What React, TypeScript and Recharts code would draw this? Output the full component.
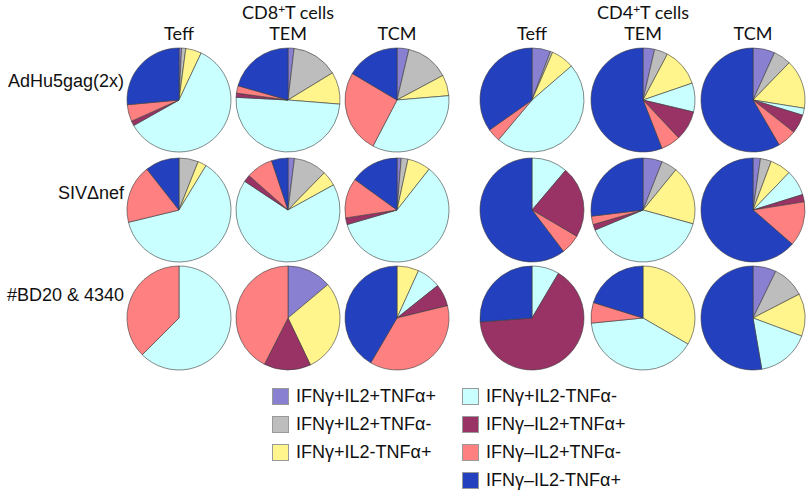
import React from 'react';
import { PieChart, Pie, Cell } from 'recharts';

const categories = [
  'IFNγ+IL2+TNFα+',
  'IFNγ+IL2+TNFα-',
  'IFNγ+IL2-TNFα+',
  'IFNγ+IL2-TNFα-',
  'IFNγ–IL2+TNFα+',
  'IFNγ–IL2+TNFα-',
  'IFNγ–IL2-TNFα+',
];
const colors = ['#8a80d2', '#bdbdbd', '#fff58c', '#c9ffff', '#993366', '#ff8080', '#2340bf'];

const rowLabels = ['AdHu5gag(2x)', 'SIVΔnef', '#BD20 & 4340'];
const subsets = ['Teff', 'TEM', 'TCM'];

// percent of responding cells, one row per vaccine group, order as categories
const cd8Teff = [
  [0.8, 1.3, 4.9, 59.7, 1.5, 5.2, 26.4],
  [0, 6.0, 2.7, 62.5, 0, 18.2, 10.6],
  [0, 0, 0, 62.5, 0, 37.5, 0],
];
const cd8Tem = [
  [1.9, 14.4, 10.0, 49.6, 1.3, 2.3, 20.6],
  [2.0, 10.3, 4.7, 67.4, 2.2, 8.4, 5.1],
  [13.9, 0, 29.0, 0, 14.6, 42.5, 0],
];
const cd8Tcm = [
  [3.7, 13.5, 6.5, 34.0, 0, 25.9, 16.5],
  [1.3, 2.1, 7.2, 59.8, 2.1, 12.4, 15.0],
  [0, 0, 6.8, 7.5, 6.9, 37.3, 41.6],
];
const cd4Teff = [
  [5.8, 0.7, 7.2, 47.5, 0, 4.1, 34.8],
  [0, 0, 0, 11.2, 22.3, 6.2, 60.4],
  [0, 0, 0, 8.5, 65.3, 0, 26.2],
];
const cd4Tem = [
  [3.6, 4.2, 12.0, 9.0, 9.3, 6.1, 56.1],
  [6.0, 4.9, 18.4, 39.4, 1.8, 2.6, 26.9],
  [0, 0, 33.4, 40.1, 0, 6.4, 20.2],
];
const cd4Tcm = [
  [6.8, 5.5, 15.3, 2.2, 5.9, 6.0, 58.5],
  [2.3, 3.4, 6.5, 8.0, 2.3, 13.9, 63.6],
  [7.2, 10.2, 13.2, 16.6, 0, 0, 52.6],
];

const columns = [cd8Teff, cd8Tem, cd8Tcm, cd4Teff, cd4Tem, cd4Tcm];
const colX = [179, 288, 397, 532, 643, 753];
const rowY = [100, 210, 318];

const headerFont = 'Lato, "Open Sans", sans-serif';

const Centered: React.FC<{ x: number; y: number; children: React.ReactNode }> = ({ x, y, children }) => (
  <div
    style={{
      position: 'absolute',
      left: x - 70,
      width: 140,
      top: y - 11,
      lineHeight: '22px',
      textAlign: 'center',
      fontFamily: headerFont,
      fontSize: 18,
      whiteSpace: 'nowrap',
    }}
  >
    {children}
  </div>
);

const legendLeft = [0, 1, 2];
const legendRight = [3, 4, 5, 6];
const legendY = [396, 424, 452, 480];

export default function App() {
  return (
    <div
      style={{
        position: 'relative',
        width: 806,
        height: 493,
        background: '#fff',
        color: '#111',
        fontFamily: '"Liberation Sans", Arial, sans-serif',
      }}
    >
      <style>{'body{margin:0}'}</style>
      <PieChart
        width={806}
        height={493}
        margin={{ top: 0, right: 0, bottom: 0, left: 0 }}
        style={{ position: 'absolute', left: 0, top: 0 }}
      >
        {columns.map((col, c) =>
          col.map((vals, r) => {
            const data = categories
              .map((name, i) => ({ name, value: vals[i], color: colors[i] }))
              .filter((d) => d.value > 0);
            return (
              <Pie
                key={`p${c}-${r}`}
                data={data}
                dataKey="value"
                nameKey="name"
                cx={colX[c]}
                cy={rowY[r]}
                outerRadius={52}
                startAngle={90}
                endAngle={-270}
                stroke="#3a3a3a"
                strokeWidth={0.6}
                isAnimationActive={false}
              >
                {data.map((d) => (
                  <Cell key={d.name} fill={d.color} />
                ))}
              </Pie>
            );
          })
        )}
      </PieChart>

      <Centered x={288} y={12}>
        CD8<sup style={{ fontSize: 12, verticalAlign: 6, lineHeight: 0 }}>+</sup>T cells
      </Centered>
      <Centered x={643} y={12}>
        CD4<sup style={{ fontSize: 12, verticalAlign: 6, lineHeight: 0 }}>+</sup>T cells
      </Centered>
      {colX.map((x, i) => (
        <Centered key={`h${i}`} x={x} y={33}>
          {subsets[i % 3]}
        </Centered>
      ))}

      {rowLabels.map((label, r) => (
        <div
          key={label}
          style={{
            position: 'absolute',
            right: 806 - 124,
            top: [81, 193, 295][r] - 11,
            lineHeight: '22px',
            fontSize: 18,
            whiteSpace: 'nowrap',
          }}
        >
          {label}
        </div>
      ))}

      {[legendLeft, legendRight].map((items, k) =>
        items.map((idx, j) => (
          <div
            key={categories[idx]}
            style={{
              position: 'absolute',
              left: k === 0 ? 272 : 462,
              top: legendY[j] - 11,
              height: 22,
              display: 'flex',
              alignItems: 'center',
              fontSize: 18,
              whiteSpace: 'nowrap',
            }}
          >
            <span
              style={{
                display: 'inline-block',
                width: 15,
                height: 15,
                background: colors[idx],
                border: '0.5px solid #999',
                marginRight: 7,
              }}
            />
            {categories[idx]}
          </div>
        ))
      )}
    </div>
  );
}
